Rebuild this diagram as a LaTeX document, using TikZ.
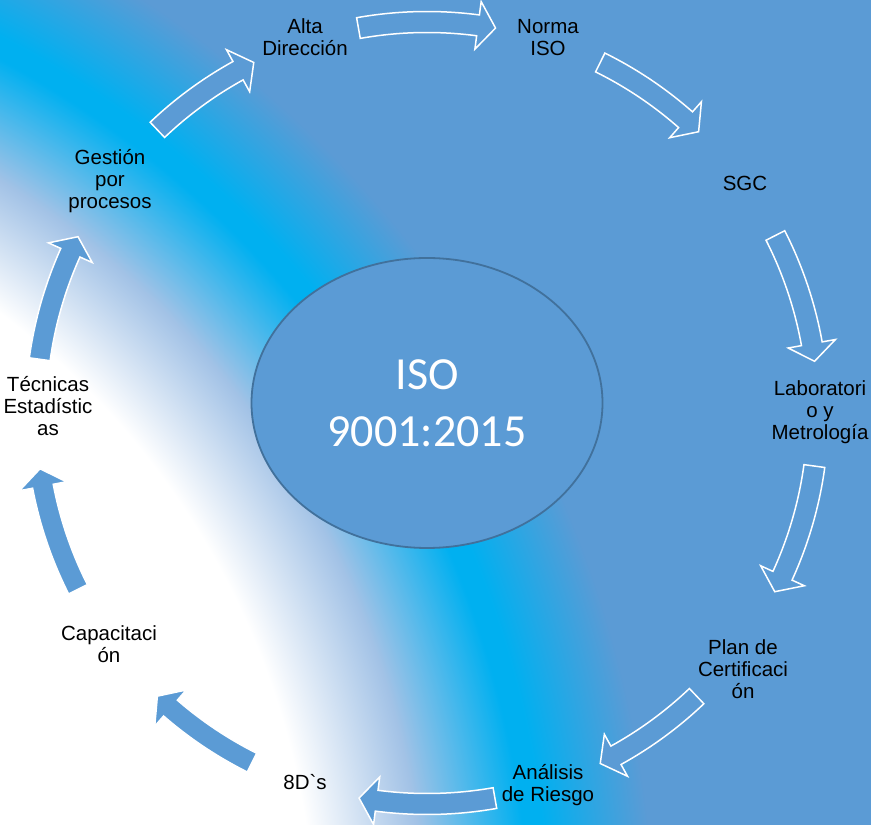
\documentclass[tikz,border=0pt]{standalone}
\usepackage{fontspec}
\newfontfamily\labfont{Liberation Sans}[Ligatures=TeXOff]
\newfontfamily\isofont{Carlito}
\usetikzlibrary{calc,shapes.geometric}
\definecolor{bgblue}{HTML}{5B9BD5}
\definecolor{bgcyan}{HTML}{00B0F0}
\definecolor{bgmid}{HTML}{A2C2E6}
\definecolor{ellborder}{HTML}{41719C}
\pgfdeclareradialshading{bgshade}{\pgfpointorigin}{color(0bp)=(white); color(16.46bp)=(white); color(18.75bp)=(bgmid); color(20.94bp)=(bgcyan); color(21.35bp)=(bgcyan); color(23.54bp)=(bgblue); color(50bp)=(bgblue)}
\newcommand\cycarrow[2]{%
  \path[cycarr] ($(C)+(#1:380.5pt)$) arc[start angle=#1, end angle={#2+2.6}, radius=380.5pt]
    -- ($(C)+({#2+2.6}:367pt)$) -- ($(C)+(#2:391pt)$) -- ($(C)+({#2+2.6}:415pt)$)
    -- ($(C)+({#2+2.6}:401.5pt)$) arc[start angle={#2+2.6}, end angle=#1, radius=401.5pt] -- cycle;}
\begin{document}
\begin{tikzpicture}[x=1pt,y=1pt,
  lab/.style={font=\labfont\fontsize{20.5}{22}\selectfont, align=center, text=black, inner sep=0pt},
  cycarr/.style={fill=bgblue, draw=white, line width=1.5pt, line join=miter},
  center/.style={ellipse, fill=bgblue, draw=ellborder, line width=1.8pt, minimum width=351pt, minimum height=290pt, inner sep=0pt, text=white, align=center, font=\isofont\fontsize{46}{57}\selectfont}]
\useasboundingbox (0,0) rectangle (871,825);
\fill[bgblue] (0,0) rectangle (871,825);
\begin{scope}
\clip (0,0) rectangle (871,825);
\shade[shading=bgshade] (-475.6,-119.4) circle[radius=1200pt];
\end{scope}
\coordinate (C) at (427,412);
\cycarrow{133.6}{116.3}
\cycarrow{100.1}{79.9}
\cycarrow{63.7}{46}
\cycarrow{27}{7.6}
\cycarrow{-7.8}{-27.2}
\cycarrow{-46.4}{-63.7}
\cycarrow{-80}{-100}
\cycarrow{-116.6}{-133.6}
\cycarrow{-153.2}{-171.8}
\cycarrow{172.1}{153.2}
\node[center] (iso) at (427,422) {ISO\\9001:2015};
\node[lab] (alta) at (305,787.5) {Alta\\Dirección};
\node[lab] (norma) at (548,787.5) {Norma\\ISO};
\node[lab] (sgc) at (745,642) {SGC};
\node[lab] (lab) at (820,413) {Laboratori\\o y\\Metrología};
\node[lab] (plan) at (743,156) {Plan de\\Certificaci\\ón};
\node[lab] (analisis) at (548,40) {Análisis\\de Riesgo};
\node[lab] (ocho) at (305,43) {8D`s};
\node[lab] (capac) at (109,181) {Capacitaci\\ón};
\node[lab] (tecnicas) at (48,419) {Técnicas\\Estadístic\\as};
\node[lab] (gestion) at (110,644) {Gestión\\por\\procesos};
\end{tikzpicture}
\end{document}
